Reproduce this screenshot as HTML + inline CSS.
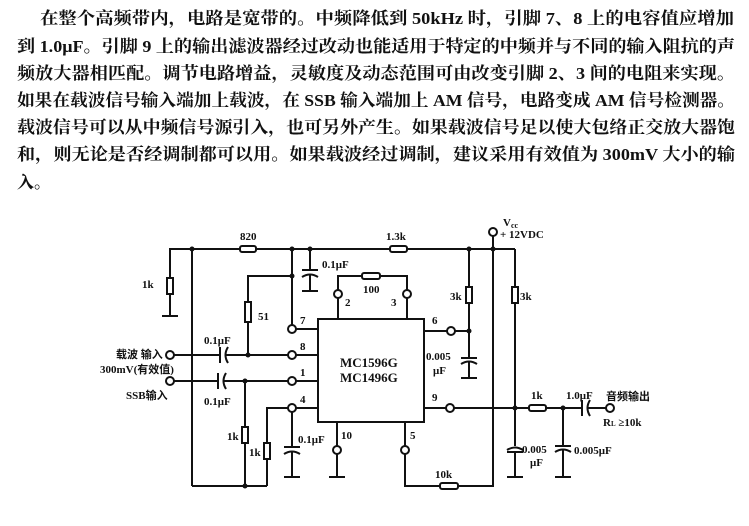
<!DOCTYPE html>
<html><head><meta charset="utf-8"><style>
html,body{margin:0;padding:0;background:#fff;width:749px;height:526px;overflow:hidden}
svg{display:block}
.t{font-family:"Liberation Serif","Noto Serif CJK SC","Noto Sans CJK SC",serif;font-size:17px;font-weight:bold;fill:#111}
.l{font-family:"Liberation Serif","Noto Sans CJK SC",serif;font-size:11px;font-weight:bold;fill:#111}
.b{font-family:"Liberation Serif",serif;font-size:13px;font-weight:bold;fill:#111}
</style></head><body>
<svg width="749" height="526" viewBox="0 0 749 526">
<g class="t">
<text x="40" y="24" textLength="694" lengthAdjust="spacingAndGlyphs">在整个高频带内，电路是宽带的。中频降低到 50kHz 时，引脚 7、8 上的电容值应增加</text>
<text x="17" y="52" textLength="718" lengthAdjust="spacingAndGlyphs">到 1.0μF。引脚 9 上的输出滤波器经过改动也能适用于特定的中频并与不同的输入阻抗的声</text>
<text x="17" y="79" textLength="718" lengthAdjust="spacingAndGlyphs">频放大器相匹配。调节电路增益，灵敏度及动态范围可由改变引脚 2、3 间的电阻来实现。</text>
<text x="17" y="106" textLength="718" lengthAdjust="spacingAndGlyphs">如果在载波信号输入端加上载波，在 SSB 输入端加上 AM 信号，电路变成 AM 信号检测器。</text>
<text x="17" y="133" textLength="718" lengthAdjust="spacingAndGlyphs">载波信号可以从中频信号源引入，也可另外产生。如果载波信号足以使大包络正交放大器饱</text>
<text x="17" y="160" textLength="718" lengthAdjust="spacingAndGlyphs">和，则无论是否经调制都可以用。如果载波经过调制，建议采用有效值为 300mV 大小的输</text>
<text x="17" y="188">入。</text>
</g>
<g stroke="#111" stroke-width="2" fill="none">
<!-- top rail -->
<polyline points="170,316 170,249 240,249"/>
<line x1="256" y1="249" x2="390" y2="249"/>
<line x1="407" y1="249" x2="515" y2="249"/>
<polyline points="515,249 515,408"/>
<line x1="162" y1="316" x2="178" y2="316"/>
<line x1="192" y1="249" x2="192" y2="486"/>
<line x1="192" y1="486" x2="267" y2="486"/>
<!-- 0.1uF top cap -->
<line x1="310" y1="249" x2="310" y2="270"/>
<line x1="302" y1="270" x2="318" y2="270"/>
<path d="M302,277 Q310,272 318,277"/>
<line x1="310" y1="275" x2="310" y2="291"/>
<line x1="302" y1="291" x2="318" y2="291"/>
<!-- pin7 -->
<line x1="292" y1="249" x2="292" y2="325"/>
<line x1="296" y1="329" x2="318" y2="329"/>
<polyline points="292,276 248,276 248,355"/>
<!-- pin8 -->
<line x1="174" y1="355" x2="220" y2="355"/>
<line x1="220" y1="347" x2="220" y2="363"/>
<path d="M228,347 Q223,355 228,363"/>
<line x1="225" y1="355" x2="288" y2="355"/>
<line x1="296" y1="355" x2="318" y2="355"/>
<!-- pin1 -->
<line x1="174" y1="381" x2="218" y2="381"/>
<line x1="218" y1="373" x2="218" y2="389"/>
<path d="M226,373 Q221,381 226,389"/>
<line x1="223" y1="381" x2="288" y2="381"/>
<line x1="296" y1="381" x2="318" y2="381"/>
<line x1="245" y1="381" x2="245" y2="486"/>
<!-- pin4 -->
<polyline points="288,408 267,408 267,486"/>
<line x1="296" y1="408" x2="318" y2="408"/>
<line x1="292" y1="412" x2="292" y2="447"/>
<line x1="284" y1="447" x2="300" y2="447"/>
<path d="M284,454 Q292,449 300,454"/>
<line x1="292" y1="452" x2="292" y2="477"/>
<line x1="284" y1="477" x2="300" y2="477"/>
<!-- IC -->
<rect x="318" y="319" width="106" height="103"/>
<polyline points="338,319 338,298"/><polyline points="338,290 338,276 362,276"/>
<polyline points="380,276 407,276 407,290"/><line x1="407" y1="298" x2="407" y2="319"/>
<!-- pin10, pin5 -->
<line x1="337" y1="422" x2="337" y2="446"/><line x1="337" y1="454" x2="337" y2="477"/><line x1="329" y1="477" x2="345" y2="477"/>
<line x1="405" y1="422" x2="405" y2="446"/><polyline points="405,454 405,486 440,486"/>
<polyline points="458,486 490,486 493,486 493,236"/>
<!-- pin6 -->
<line x1="424" y1="331" x2="447" y2="331"/><line x1="455" y1="331" x2="469" y2="331"/>
<line x1="469" y1="249" x2="469" y2="358"/>
<line x1="461" y1="358" x2="477" y2="358"/>
<path d="M461,364 Q469,359 477,364"/>
<line x1="469" y1="362" x2="469" y2="378"/><line x1="461" y1="378" x2="477" y2="378"/>
<!-- pin9 output -->
<line x1="424" y1="408" x2="446" y2="408"/><line x1="454" y1="408" x2="529" y2="408"/>
<line x1="546" y1="408" x2="582" y2="408"/>
<line x1="582" y1="400" x2="582" y2="416"/>
<path d="M590,400 Q585,408 590,416"/>
<line x1="587" y1="408" x2="606" y2="408"/>
<line x1="515" y1="408" x2="515" y2="446"/>
<path d="M507,450 Q515,445 523,450"/><line x1="507" y1="452" x2="523" y2="452"/>
<line x1="515" y1="452" x2="515" y2="477"/><line x1="507" y1="477" x2="523" y2="477"/>
<line x1="563" y1="408" x2="563" y2="446"/>
<line x1="555" y1="446" x2="571" y2="446"/>
<path d="M555,452 Q563,447 571,452"/>
<line x1="563" y1="450" x2="563" y2="477"/><line x1="555" y1="477" x2="571" y2="477"/>
</g>
<!-- resistors -->
<g stroke="#111" stroke-width="2" fill="#fff">
<rect x="167" y="278" width="6" height="16"/>
<rect x="240" y="246" width="16" height="6" rx="2"/>
<rect x="390" y="246" width="17" height="6" rx="2"/>
<rect x="362" y="273" width="18" height="6" rx="2"/>
<rect x="245" y="302" width="6" height="20"/>
<rect x="242" y="427" width="6" height="16"/>
<rect x="264" y="443" width="6" height="16"/>
<rect x="440" y="483" width="18" height="6" rx="2"/>
<rect x="466" y="287" width="6" height="16"/>
<rect x="512" y="287" width="6" height="16"/>
<rect x="529" y="405" width="17" height="6" rx="2"/>
</g>
<!-- terminals -->
<g stroke="#111" stroke-width="2" fill="#fff">
<circle cx="292" cy="329" r="4"/><circle cx="292" cy="355" r="4"/><circle cx="292" cy="381" r="4"/><circle cx="292" cy="408" r="4"/>
<circle cx="170" cy="355" r="4"/><circle cx="170" cy="381" r="4"/>
<circle cx="338" cy="294" r="4"/><circle cx="407" cy="294" r="4"/>
<circle cx="337" cy="450" r="4"/><circle cx="405" cy="450" r="4"/>
<circle cx="451" cy="331" r="4"/><circle cx="450" cy="408" r="4"/>
<circle cx="493" cy="232" r="4"/><circle cx="610" cy="408" r="4"/>
</g>
<g fill="#111">
<circle cx="192" cy="249" r="2.5"/><circle cx="292" cy="249" r="2.5"/><circle cx="310" cy="249" r="2.5"/>
<circle cx="292" cy="276" r="2.5"/><circle cx="248" cy="355" r="2.5"/><circle cx="245" cy="381" r="2.5"/>
<circle cx="245" cy="486" r="2.5"/><circle cx="469" cy="249" r="2.5"/><circle cx="493" cy="249" r="2.5"/>
<circle cx="469" cy="331" r="2.5"/><circle cx="515" cy="408" r="2.5"/><circle cx="563" cy="408" r="2.5"/>
</g>
<g class="l">
<text x="142" y="288">1k</text>
<text x="240" y="240">820</text>
<text x="386" y="240">1.3k</text>
<text x="322" y="268">0.1μF</text>
<text x="363" y="293">100</text>
<text x="345" y="306">2</text><text x="391" y="306">3</text>
<text x="258" y="320">51</text>
<text x="300" y="324">7</text><text x="300" y="350">8</text><text x="300" y="376">1</text><text x="300" y="403">4</text>
<text x="204" y="344">0.1μF</text>
<text x="204" y="405">0.1μF</text>
<text x="116" y="358">载波 输入</text>
<text x="100" y="373">300mV(有效值)</text>
<text x="126" y="399">SSB输入</text>
<text x="227" y="440">1k</text>
<text x="249" y="456">1k</text>
<text x="298" y="443">0.1μF</text>
<text x="341" y="439">10</text><text x="410" y="439">5</text>
<text x="435" y="478">10k</text>
<text x="432" y="324">6</text><text x="432" y="401">9</text>
<text x="426" y="360">0.005</text><text x="433" y="374">μF</text>
<text x="450" y="300">3k</text><text x="520" y="300">3k</text>
<text x="503" y="226">V</text><text x="511" y="228" font-size="8">cc</text>
<text x="500" y="238">+ 12VDC</text>
<text x="531" y="399">1k</text>
<text x="566" y="399">1.0μF</text>
<text x="606" y="400">音频输出</text>
<text x="603" y="426">R<tspan font-size="7">L</tspan> ≥10k</text>
<text x="522" y="453">0.005</text><text x="530" y="466">μF</text>
<text x="574" y="454">0.005μF</text>
</g>
<g class="b"><text x="340" y="367">MC1596G</text><text x="340" y="382">MC1496G</text></g>
</svg>
</body></html>
